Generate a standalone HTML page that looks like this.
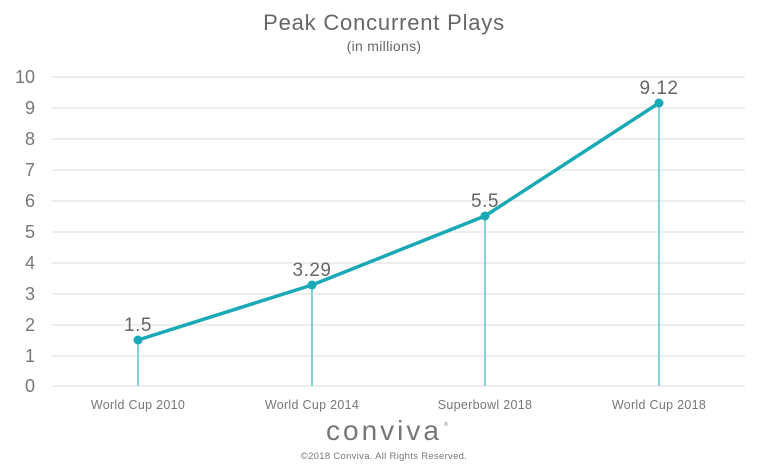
<!DOCTYPE html>
<html><head><style>body{margin:0;background:#fff}svg{display:block}</style></head>
<body>
<svg width="768" height="471" xmlns="http://www.w3.org/2000/svg" font-family="Liberation Sans, sans-serif">
<text x="384" y="30" text-anchor="middle" font-size="22" fill="#666" letter-spacing="0.8">Peak Concurrent Plays</text>
<text x="384" y="51" text-anchor="middle" font-size="14" fill="#666" letter-spacing="0.3">(in millions)</text>
<g stroke="#e4e4e4" stroke-width="1.3">
<line x1="52" x2="745" y1="77" y2="77"/><line x1="52" x2="745" y1="108" y2="108"/>
<line x1="52" x2="745" y1="139" y2="139"/><line x1="52" x2="745" y1="170" y2="170"/>
<line x1="52" x2="745" y1="201" y2="201"/><line x1="52" x2="745" y1="232" y2="232"/>
<line x1="52" x2="745" y1="263" y2="263"/><line x1="52" x2="745" y1="294" y2="294"/>
<line x1="52" x2="745" y1="325" y2="325"/><line x1="52" x2="745" y1="356" y2="356"/>
<line x1="52" x2="745" y1="386" y2="386"/>
</g>
<g font-size="18" fill="#777" text-anchor="end">
<text x="35" y="83">10</text><text x="35" y="114">9</text><text x="35" y="145">8</text>
<text x="35" y="176">7</text><text x="35" y="207">6</text><text x="35" y="238">5</text>
<text x="35" y="269">4</text><text x="35" y="300">3</text><text x="35" y="331">2</text>
<text x="35" y="362">1</text><text x="35" y="392">0</text>
</g>
<g stroke="#7fd3d9" stroke-width="2">
<line x1="138" x2="138" y1="340" y2="386"/><line x1="312" x2="312" y1="285" y2="386"/>
<line x1="485" x2="485" y1="216" y2="386"/><line x1="659" x2="659" y1="103" y2="386"/>
</g>
<polyline points="138,340 312,285 485,216 659,103" fill="none" stroke="#19a9b6" stroke-width="3.5" stroke-linejoin="round"/>
<g fill="#19a9b6"><circle cx="138" cy="340" r="4.5"/><circle cx="312" cy="285" r="4.5"/><circle cx="485" cy="216" r="4.5"/><circle cx="659" cy="103" r="4.5"/></g>
<g font-size="19" fill="#666" text-anchor="middle" letter-spacing="0.5">
<text x="138" y="331">1.5</text><text x="312" y="276">3.29</text><text x="485" y="207">5.5</text><text x="659" y="94">9.12</text>
</g>
<g font-size="12.5" fill="#777" text-anchor="middle" letter-spacing="0.3">
<text x="138" y="409">World Cup 2010</text><text x="312" y="409">World Cup 2014</text>
<text x="485" y="409">Superbowl 2018</text><text x="659" y="409">World Cup 2018</text>
</g>
<text x="384" y="440" text-anchor="middle" font-size="28" fill="#777" letter-spacing="3">conviva</text>
<text x="444" y="426" font-size="5" fill="#777">®</text>
<text x="384" y="459" text-anchor="middle" font-size="9.5" fill="#777" letter-spacing="0.3">©2018 Conviva. All Rights Reserved.</text>
</svg>
</body></html>
